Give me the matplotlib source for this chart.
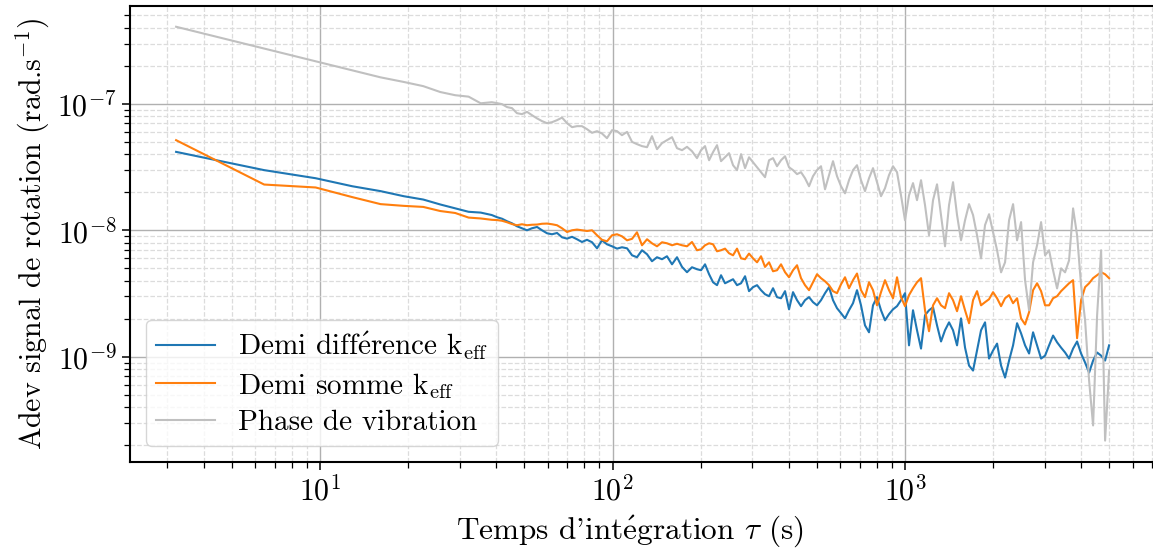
import numpy as np
import matplotlib
matplotlib.use("Agg")
import matplotlib.pyplot as plt

# integration times (s)
tau = [
    3.22, 6.44, 9.66, 12.88, 16.1, 19.32, 22.54, 25.76, 28.98, 32.2, 35.42, 38.64,
    40.3, 41.9, 43.6, 45.3, 47.1, 49.0, 51.0, 53.0, 55.2, 57.4,
    59.7, 62.1, 64.6, 67.2, 69.9, 72.7, 75.6, 78.6, 81.8, 85.1,
    88.5, 92.0, 95.7, 99.6, 103.6, 107.7, 112.1, 116.6, 121.2, 126.1,
    131.2, 136.4, 141.9, 147.6, 153.5, 159.7, 166.1, 172.8, 179.7, 186.9,
    194.4,
    200.7, 207.1, 213.8, 220.6, 227.6, 234.9, 242.4, 250.2, 258.2, 266.4,
    275.0, 283.8, 292.8, 302.2, 311.9, 321.8, 332.1, 342.8, 353.7, 365.0,
    376.7, 388.8, 401.2, 414.0, 427.3, 440.9, 455.0, 469.6, 484.6, 500.1,
    516.1, 532.6, 549.6, 567.2, 585.3, 604.1, 623.4, 643.3, 663.9, 685.1,
    707.0, 729.6, 753.0, 777.1, 801.9, 827.6, 854.0, 881.4, 909.6, 938.7,
    968.7, 999.7, 1031.7, 1064.7, 1098.8, 1134.0, 1170.3, 1207.7, 1246.4, 1286.3,
    1327.4, 1369.9, 1413.7, 1459.0, 1505.7, 1553.8, 1603.6, 1654.9, 1707.9, 1762.5,
    1818.9, 1877.1, 1937.2, 1999.2, 2063.5, 2129.5, 2197.6, 2267.9, 2340.5, 2415.4,
    2492.7, 2572.5, 2654.8, 2739.7, 2827.4, 2917.9, 3011.2, 3107.6, 3207.0, 3309.7,
    3415.6, 3524.9, 3637.6, 3754.0, 3874.1, 3998.1, 4126.0, 4258.1, 4394.3, 4535.0,
    4680.1, 4829.8, 4984.4,
]

# Allan deviations, in units of 1e-9 rad/s
demi_difference = [
    41.7, 29.9, 25.8, 22.3, 20.4, 18.6, 17.5, 16.0, 14.9, 14.0, 13.8, 13.2,
    12.68, 12.34, 11.78, 11.36, 10.76, 10.37, 10.00, 10.37, 10.62, 10.00,
    9.47, 9.30, 9.52, 8.80, 8.59, 8.88, 8.49, 8.08, 8.41, 8.04,
    7.20, 8.33, 7.75, 7.47, 7.16, 7.34, 7.20, 6.34, 6.12, 6.95,
    6.46, 5.69, 6.12, 5.90, 6.23, 5.38, 6.12, 5.13, 4.66, 5.10,
    4.92,
    4.83, 5.38, 4.49, 3.88, 3.68, 4.41, 3.81, 3.95, 4.10, 3.68,
    3.81, 4.33, 3.30, 3.55, 3.68, 3.36, 3.12, 3.01, 3.48, 2.96,
    2.90, 3.30, 2.37, 3.24, 2.80, 2.51, 2.80, 2.96, 2.70, 2.55,
    2.80, 3.18, 3.55, 2.80, 2.42, 2.21, 2.01, 2.33, 2.65, 3.36,
    2.55, 1.77, 1.56, 2.55, 2.96, 2.33, 1.94, 2.17, 2.37, 2.51,
    2.80, 3.18, 1.23, 2.33, 1.62, 1.16, 2.13, 2.33, 2.46, 1.77,
    1.32, 1.62, 1.87, 1.62, 1.23, 2.01, 1.18, 0.851, 0.777, 1.12,
    1.62, 1.87, 0.967, 1.12, 1.27, 0.851, 0.684, 0.932, 1.23, 1.84,
    1.53, 1.23, 1.06, 1.56, 1.23, 0.967, 1.02, 1.23, 1.47, 1.30,
    1.18, 1.08, 0.967, 1.16, 1.32, 1.06, 0.899, 0.749, 0.932, 1.08,
    1.02, 0.932, 1.23,
]

demi_somme = [
    51.6, 23.0, 21.8, 18.3, 16.1, 15.6, 15.3, 14.2, 13.7, 12.6, 12.4, 12.1,
    12.04, 11.89, 11.57, 11.20, 10.96, 11.16, 10.96, 11.06, 11.10, 11.26,
    11.30, 11.16, 10.96, 10.37, 9.69, 10.00, 10.13, 10.00, 9.87, 10.00,
    9.13, 8.41, 8.18, 9.13, 9.30, 8.96, 8.33, 8.56, 9.64, 7.61,
    8.49, 7.89, 7.47, 8.04, 7.89, 7.61, 7.82, 7.61, 7.47, 8.08,
    6.95,
    7.07, 7.61, 7.89, 7.75, 6.82, 6.95, 7.16, 6.58, 6.34, 7.16,
    6.00, 5.90, 6.54, 6.00, 5.58, 6.23, 5.13, 5.58, 4.74, 4.83,
    5.38, 4.66, 4.25, 4.83, 5.29, 4.18, 3.68, 3.36, 3.88, 4.49,
    4.18, 3.95, 3.68, 3.30, 3.18, 3.74, 4.25, 3.48, 4.03, 4.55,
    3.36, 2.96, 3.88, 3.36, 2.55, 3.24, 4.03, 3.36, 2.90, 4.25,
    2.96, 2.51, 3.07, 3.48, 3.88, 4.18, 2.33, 1.59, 2.55, 2.90,
    2.55, 2.42, 3.18, 2.80, 2.29, 3.01, 2.33, 1.84, 2.80, 3.30,
    2.55, 2.70, 2.85, 3.24, 2.90, 2.51, 2.90, 3.07, 2.65, 2.90,
    2.01, 1.80, 2.25, 3.36, 3.81, 3.30, 2.55, 2.55, 2.90, 3.01,
    3.30, 3.55, 3.81, 4.03, 1.40, 2.80, 3.55, 3.81, 4.18, 4.41,
    4.66, 4.49, 4.18,
]

phase_vibration = [
    407, 274, 217, 184, 162, 149, 138, 124, 117, 114, 101, 103,
    101.3, 99.4, 94.2, 92.5, 84.4, 82.9, 86.4, 81.4, 76.7, 73.0,
    70.3, 71.6, 74.3, 77.8, 70.3, 65.4, 66.6, 66.6, 63.0, 59.0,
    60.8, 58.3, 53.5, 61.9, 60.8, 56.5, 60.0, 50.0, 48.0, 46.3,
    45.4, 55.5, 43.8, 48.9, 51.6, 54.5, 44.6, 43.0, 45.7, 42.2,
    37.2,
    43.0, 46.3, 35.8, 41.5, 47.1, 35.2, 37.8, 40.7, 32.7, 29.9,
    40.0, 31.0, 37.8, 34.5, 31.5, 28.8, 26.3, 35.8, 37.2, 32.1,
    35.8, 38.5, 31.5, 29.9, 27.8, 28.8, 25.8, 22.3, 26.8, 29.9,
    32.1, 21.1, 27.3, 35.2, 26.8, 22.3, 19.6, 24.9, 29.9, 32.7,
    24.9, 20.4, 25.8, 31.0, 24.0, 18.6, 21.5, 27.3, 32.1, 28.8,
    18.9, 12.0, 18.9, 23.6, 17.3, 24.9, 15.8, 9.13, 17.3, 23.1,
    13.2, 7.47, 15.8, 24.0, 13.2, 8.33, 12.0, 16.1, 13.2, 9.13,
    6.00, 11.0, 13.4, 9.64, 6.95, 4.65, 5.58, 12.0, 16.1, 8.33,
    11.6, 4.02, 2.33, 5.58, 7.61, 11.6, 6.34, 6.95, 4.82, 3.47,
    5.00, 4.65, 5.79, 14.9, 9.13, 3.67, 1.94, 0.649, 0.286, 2.12,
    6.95, 0.217, 0.779,
]

labels = [
    r"Demi diff$\mathrm{\acute{e}}$rence $\mathrm{k}_{\mathrm{eff}}$",
    r"Demi somme $\mathrm{k}_{\mathrm{eff}}$",
    "Phase de vibration",
]

plt.rcParams.update({
    "font.family": "serif",
    "font.serif": ["cmr10"],
    "mathtext.fontset": "cm",
    "axes.formatter.use_mathtext": True,
    "font.size": 21.5,
})

fig = plt.figure(figsize=(11.53, 5.49), dpi=100)
ax = fig.add_axes([130 / 1153, 87 / 549, 1031 / 1153, 456 / 549])

scale = 1e-9
ax.plot(tau, np.array(demi_difference) * scale, color="#1f77b4", lw=1.5, label=labels[0])
ax.plot(tau, np.array(demi_somme) * scale, color="#ff7f0e", lw=1.5, label=labels[1])
ax.plot(tau, np.array(phase_vibration) * scale, color="#c0c0c0", lw=1.5, label=labels[2])

ax.set_xscale("log")
ax.set_yscale("log")
ax.set_xlim(2.24, 7500)
ax.set_ylim(1.47e-10, 5.94e-7)

ax.set_axisbelow(True)
ax.grid(which="major", color="#b0b0b0", linestyle="-", linewidth=1.0)
ax.grid(which="minor", color="#dcdcdc", linestyle="--", linewidth=0.9)

for s in ax.spines.values():
    s.set_linewidth(1.5)
ax.tick_params(which="major", length=6, width=1.1, labelsize=21.5)
ax.tick_params(which="minor", length=4, width=0.9)

ax.set_xlabel(r"Temps d'int$\mathrm{\acute{e}}$gration $\tau$ (s)", fontsize=22.5)
ax.xaxis.set_label_coords(0.485, -0.113)
ax.set_ylabel(r"Adev signal de rotation (rad.s$^{-1}$)", fontsize=21.5)

ax.legend(loc="lower left", handlelength=2.0, handletextpad=0.8,
          labelspacing=0.3, borderpad=0.35, borderaxespad=0.55, fontsize=21)

fig.savefig("out.png", dpi=100)
